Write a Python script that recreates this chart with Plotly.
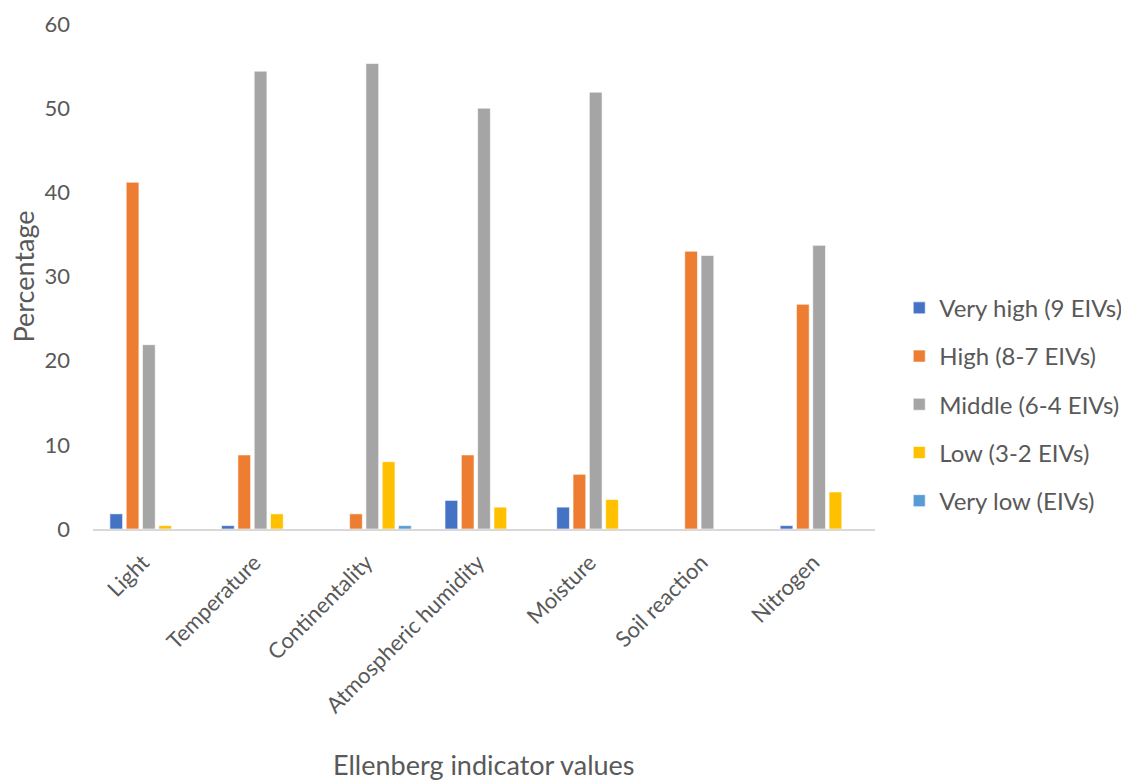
import plotly.graph_objects as go

categories = ["Light", "Temperature", "Continentality", "Atmospheric humidity",
              "Moisture", "Soil reaction", "Nitrogen"]
very_high = [1.8, 0.4, 0, 3.4, 2.6, 0, 0.4]
high = [41.2, 8.8, 1.8, 8.8, 6.5, 33.0, 26.7]
middle = [21.9, 54.4, 55.3, 50.0, 51.9, 32.5, 33.7]
low = [0.4, 1.8, 8.0, 2.6, 3.5, 0, 4.4]
very_low = [0, 0, 0.4, 0, 0, 0, 0]
series_names = ["Very high (9 EIVs)", "High (8-7 EIVs)", "Middle (6-4 EIVs)",
                "Low (3-2 EIVs)", "Very low (EIVs)"]
colors = ["#4472C4", "#ED7D31", "#A5A5A5", "#FFC000", "#5B9BD5"]
x_title = "Ellenberg indicator values"
y_title = "Percentage"

fig = go.Figure()
for i, (name, vals) in enumerate(zip(series_names, [very_high, high, middle, low, very_low])):
    fig.add_trace(go.Bar(
        x=categories, y=vals, name=name, legendgroup=f"g{i}",
        marker=dict(color=colors[i], line=dict(color="rgba(255,255,255,0.6)", width=1)),
    ))

font_family = "Lato, 'Noto Sans', sans-serif"
fig.update_layout(
    width=1129, height=780,
    margin=dict(l=85, r=262, t=16, b=259, autoexpand=False),
    plot_bgcolor="white", paper_bgcolor="white",
    barmode="group", bargap=0.27, bargroupgap=0.22,
    font=dict(family=font_family, color="#595959", size=21),
    legend=dict(x=1.031, y=0.247, xanchor="left", yanchor="middle",
                font=dict(size=24, color="#595959"),
                traceorder="grouped", tracegroupgap=14,
                itemwidth=30),
    xaxis=dict(
        tickangle=-45, tickfont=dict(size=22, color="#595959"),
        showline=True, linecolor="#D9D9D9", linewidth=2, showgrid=False,
        ticks="", ticklabelstandoff=10, ticklabelshift=-6, automargin=False,
    ),
    yaxis=dict(
        range=[0, 60], dtick=10, tickfont=dict(size=22, color="#595959"),
        showgrid=False, zeroline=False, showline=False, ticks="",
        ticklabelstandoff=22, automargin=False,
    ),
    annotations=[
        dict(text=x_title, xref="paper", yref="paper", x=0.5, y=-0.467,
             xanchor="center", yanchor="middle", showarrow=False,
             font=dict(size=27, color="#595959")),
        dict(text=y_title, xref="paper", yref="paper", x=-0.0895, y=0.5,
             xanchor="center", yanchor="middle", showarrow=False, textangle=-90,
             font=dict(size=27, color="#595959")),
    ],
)

fig.write_html("out.html")
